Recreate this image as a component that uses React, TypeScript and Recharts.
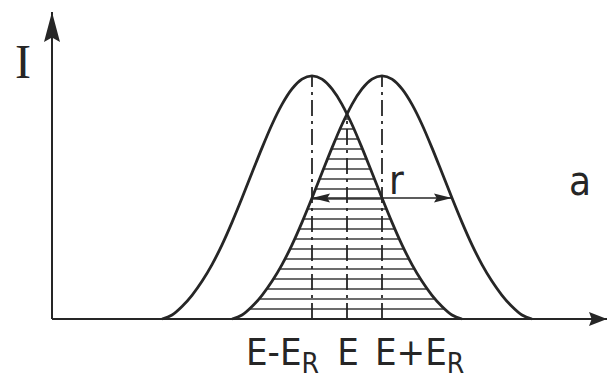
import { ComposedChart, Line, Area, XAxis, YAxis, ReferenceLine } from 'recharts';

// energy grid (arbitrary units) and the two intensity profiles
const energy = [
  22, 24, 26, 28, 30, 32, 34, 36, 38, 40, 42, 44, 46, 48, 50, 52, 54, 56, 58, 59,
  60, 62, 64, 66, 68, 70, 72, 74, 76, 78, 80, 82, 84, 86, 88, 90, 92, 94, 96,
];
const lowerLine = [
  0, 1.3, 4.1, 7.8, 12.4, 17.9, 24.4, 31.8, 39.8, 48.1, 56.3, 64, 70.6, 75.7, 78.9, 80, 78.9, 75.7, 70.6, 67.4,
  64, 56.3, 48.1, 39.8, 31.8, 24.4, 17.9, 12.4, 7.8, 4.1, 1.3, 0, null, null, null, null, null, null, null,
];
const upperLine = [
  null, null, null, null, null, null, null, 0, 1.3, 4.1, 7.8, 12.4, 17.9, 24.4, 31.8, 39.8, 48.1, 56.3, 64, 67.4,
  70.6, 75.7, 78.9, 80, 78.9, 75.7, 70.6, 64, 56.3, 48.1, 39.8, 31.8, 24.4, 17.9, 12.4, 7.8, 4.1, 1.3, 0,
];

// tick positions: E-E_R, E, E+E_R
const tickEnergies = [52, 59, 66];
const tickMain = ['E-E', 'E', 'E+E'];
const tickSub = ['R', '', 'R'];

// the "r" arrow runs from the lower peak to the upper line's flank
const rFrom = 52;
const rTo = 80;

const rows = energy.map((e, i) => {
  const a = lowerLine[i];
  const b = upperLine[i];
  return {
    energy: e,
    lower: a,
    upper: b,
    overlap: a != null && b != null ? Math.min(a, b) : null,
  };
});

const valueAt = (arr: (number | null)[], e: number) => arr[energy.indexOf(e)] as number;

const INK = '#262626';
const narrow = "'Liberation Sans Narrow', 'DejaVu Sans Condensed', 'Liberation Sans', sans-serif";

// line with filled arrowheads at one or both ends
const arrowShape = (len: number, half: number, width: number, both: boolean) => (p: any) => {
  const { x1, y1, x2, y2 } = p;
  const L = Math.hypot(x2 - x1, y2 - y1) || 1;
  const ux = (x2 - x1) / L;
  const uy = (y2 - y1) / L;
  const head = (tx: number, ty: number, dx: number, dy: number) => {
    const bx = tx - dx * len;
    const by = ty - dy * len;
    return `${tx},${ty} ${bx - dy * half},${by + dx * half} ${bx + dx * len * 0.15},${by + dy * len * 0.15} ${bx + dy * half},${by - dx * half}`;
  };
  return (
    <g>
      <line x1={x1} y1={y1} x2={x2} y2={y2} stroke={INK} strokeWidth={width} />
      <polygon points={head(x2, y2, ux, uy)} fill={INK} />
      {both && <polygon points={head(x1, y1, -ux, -uy)} fill={INK} />}
    </g>
  );
};

const EnergyTick = (props: any) => {
  const { x, y, payload } = props;
  const i = tickEnergies.indexOf(payload.value);
  if (i < 0) return null;
  const anchor = i === 0 ? 'end' : i === 1 ? 'middle' : 'start';
  const dx = i === 0 ? 7 : i === 1 ? 1 : -7;
  return (
    <text x={x + dx} y={y + 46} textAnchor={anchor} fontFamily={narrow} fontSize={38} fill={INK}>
      <tspan>{tickMain[i]}</tspan>
      {tickSub[i] && (
        <tspan dy={8} fontSize={28}>
          {tickSub[i]}
        </tspan>
      )}
    </text>
  );
};

export default function App() {
  const peakLow = valueAt(lowerLine, 52);
  const peakHigh = valueAt(upperLine, 66);
  const cross = Math.min(valueAt(lowerLine, 59), valueAt(upperLine, 59));
  const rLevel = valueAt(upperLine, rTo);
  const dashDot = '16 5 3 5';

  return (
    <div style={{ position: 'absolute', left: 0, top: 0, background: '#fff' }}>
      <ComposedChart
        width={611}
        height={379}
        data={rows}
        margin={{ top: 12, right: 4, left: 52, bottom: 30 }}
      >
        <defs>
          <pattern id="hatch" patternUnits="userSpaceOnUse" width={8} height={10}>
            <line x1={0} y1={9} x2={8} y2={9} stroke="#3a3a3a" strokeWidth={1.5} />
          </pattern>
        </defs>
        <XAxis
          dataKey="energy"
          type="number"
          domain={[0, 111]}
          ticks={tickEnergies}
          axisLine={false}
          tickLine={false}
          tickSize={0}
          tickMargin={0}
          height={30}
          interval={0}
          tick={EnergyTick}
        />
        <YAxis type="number" domain={[0, 101]} hide />

        <Area
          dataKey="overlap"
          type="linear"
          stroke="none"
          fill="url(#hatch)"
          fillOpacity={1}
          isAnimationActive={false}
          connectNulls={false}
        />

        <ReferenceLine
          segment={[{ x: 52, y: 0 }, { x: 52, y: peakLow }]}
          stroke={INK}
          strokeWidth={1.8}
          strokeDasharray={dashDot}
        />
        <ReferenceLine
          segment={[{ x: 59, y: 0 }, { x: 59, y: cross }]}
          stroke={INK}
          strokeWidth={1.8}
          strokeDasharray={dashDot}
        />
        <ReferenceLine
          segment={[{ x: 66, y: 0 }, { x: 66, y: peakHigh }]}
          stroke={INK}
          strokeWidth={1.8}
          strokeDasharray={dashDot}
        />

        <Line
          dataKey="lower"
          type="monotone"
          stroke={INK}
          strokeWidth={2.8}
          dot={false}
          activeDot={false}
          isAnimationActive={false}
        />
        <Line
          dataKey="upper"
          type="monotone"
          stroke={INK}
          strokeWidth={2.8}
          dot={false}
          activeDot={false}
          isAnimationActive={false}
        />

        <ReferenceLine
          segment={[{ x: rFrom, y: rLevel }, { x: rTo, y: rLevel }]}
          shape={arrowShape(18, 4.5, 1.4, true)}
        />

        {/* axes with arrowheads */}
        <ReferenceLine segment={[{ x: 0, y: 0 }, { x: 0, y: 101 }]} shape={arrowShape(30, 8, 2, false)} />
        <ReferenceLine segment={[{ x: 0, y: 0 }, { x: 111, y: 0 }]} shape={arrowShape(18, 7, 2, false)} />

        <text x={23} y={78} textAnchor="middle" fontFamily="'Liberation Serif', serif" fontSize={48} fill={INK}>
          I
        </text>
        <text x={389} y={194} fontFamily={narrow} fontSize={40} fill={INK}>
          r
        </text>
        <text x={569} y={195} fontFamily={narrow} fontSize={40} fill={INK}>
          a
        </text>
      </ComposedChart>
    </div>
  );
}
